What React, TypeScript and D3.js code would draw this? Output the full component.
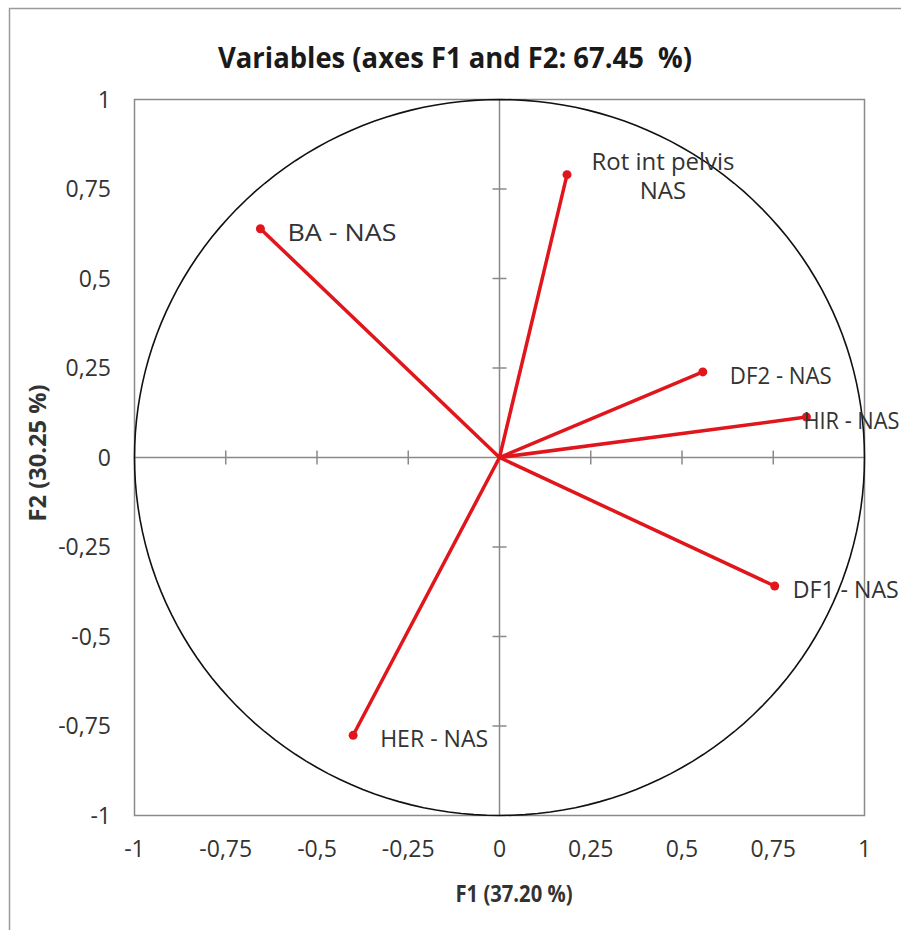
import React from "react";
import * as d3 from "d3";

const variables = ["Rot int pelvis NAS", "BA - NAS", "DF2 - NAS", "HIR - NAS", "DF1 - NAS", "HER - NAS"];
const f1Values = [0.185, -0.655, 0.557, 0.841, 0.754, -0.401];
const f2Values = [0.79, 0.639, 0.239, 0.113, -0.359, -0.776];
const tickValues = [-1, -0.75, -0.5, -0.25, 0, 0.25, 0.5, 0.75, 1];
const titleText = "Variables (axes F1 and F2: 67.45\u00a0\u00a0%)";
const xTitle = "F1 (37.20 %)";
const yTitle = "F2 (30.25 %)";

const W = 901, H = 930;
const x = d3.scaleLinear().domain([-1, 1]).range([134.5, 864.5]);
const y = d3.scaleLinear().domain([-1, 1]).range([815.5, 99.5]);
const fmt = (v: number) => String(v).replace(".", ",");
const FONT = "'Open Sans', 'Noto Sans', sans-serif";
const RED = "#e0161c";

export default function App() {
  const circle = d3.range(0, 361, 2).map((a) => {
    const r = (a * Math.PI) / 180;
    return [x(Math.cos(r)), y(Math.sin(r))] as [number, number];
  });
  const circlePath = d3.line().curve(d3.curveLinearClosed)(circle) || "";
  const pts = variables.map((name, i) => ({ name, px: x(f1Values[i]), py: y(f2Values[i]) }));
  const labelW = [0, 109, 102, 96, 106, 108];
  return (
    <svg width={W} height={H} style={{ position: "absolute", left: 0, top: 0, background: "#fff" }} fontFamily={FONT}>
      <rect x={9.5} y={8.5} width={1000} height={1000} fill="#fff" stroke="#9a9a9a" strokeWidth={1.5} />
      <text x={455} y={68} textAnchor="middle" fontWeight="bold" fontSize={28} fill="#1a1a1a" textLength={474} lengthAdjust="spacingAndGlyphs">{titleText}</text>
      <rect x={x(-1)} y={y(1)} width={x(1) - x(-1)} height={y(-1) - y(1)} fill="none" stroke="#8a8a8a" strokeWidth={1.5} />
      <line x1={x(-1)} x2={x(1)} y1={y(0)} y2={y(0)} stroke="#8a8a8a" strokeWidth={1.5} />
      <line x1={x(0)} x2={x(0)} y1={y(-1)} y2={y(1)} stroke="#8a8a8a" strokeWidth={1.5} />
      {tickValues.filter((t) => Math.abs(t) < 1 && t !== 0).map((t) => (
        <g key={"t" + t}>
          <line x1={x(t)} x2={x(t)} y1={y(0) - 7} y2={y(0) + 7} stroke="#8a8a8a" strokeWidth={1.5} />
          <line x1={x(0) - 7} x2={x(0) + 7} y1={y(t)} y2={y(t)} stroke="#8a8a8a" strokeWidth={1.5} />
        </g>
      ))}
      <path d={circlePath} fill="none" stroke="#111" strokeWidth={1.6} />
      {tickValues.map((t) => (
        <text key={"xl" + t} x={x(t)} y={857} textAnchor="middle" fontSize={23} fill="#333">{fmt(t)}</text>
      ))}
      {tickValues.map((t) => (
        <text key={"yl" + t} x={111} y={y(t) + 8} textAnchor="end" fontSize={23} fill="#333">{fmt(t)}</text>
      ))}
      <text x={514} y={902} textAnchor="middle" fontWeight="bold" fontSize={24} fill="#333" textLength={117} lengthAdjust="spacingAndGlyphs">{xTitle}</text>
      <text transform={`translate(46,453) rotate(-90)`} textAnchor="middle" fontWeight="bold" fontSize={24} fill="#333" textLength={137} lengthAdjust="spacingAndGlyphs">{yTitle}</text>
      {pts.map((p) => (
        <g key={p.name}>
          <line x1={x(0)} y1={y(0)} x2={p.px} y2={p.py} stroke={RED} strokeWidth={3.5} />
          <circle cx={p.px} cy={p.py} r={4.5} fill={RED} />
        </g>
      ))}
      {pts.map((p, i) => {
        if (i === 0) {
          return (
            <text key={"lab" + i} fontSize={24} fill="#333" textAnchor="middle">
              <tspan x={663} y={170} textLength={143} lengthAdjust="spacingAndGlyphs">Rot int pelvis</tspan>
              <tspan x={663} y={199}>NAS</tspan>
            </text>
          );
        }
        const dx = i === 3 ? -3 : i === 4 ? 18 : 27;
        return (
          <text key={"lab" + i} x={p.px + dx} y={p.py + 12} fontSize={24} fill="#333" textLength={labelW[i]} lengthAdjust="spacingAndGlyphs">{p.name}</text>
        );
      })}
    </svg>
  );
}
